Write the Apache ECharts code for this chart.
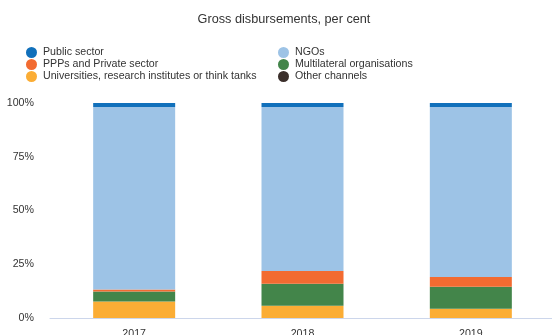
<!DOCTYPE html>
<html>
<head>
<meta charset="utf-8">
<script src="https://cdn.jsdelivr.net/npm/echarts@6/dist/echarts.min.js"></script>
<style>
  html, body { margin: 0; padding: 0; background: #ffffff; }
  #chart { width: 552px; height: 335px; }
</style>
</head>
<body>
<div id="chart"></div>
<script>
// Share of gross disbursements by channel, per cent
const years = ['2017', '2018', '2019'];
const publicSector = [1.9, 1.9, 1.9];
const ngos = [84.9, 76.2, 79.0];
const ppps = [0.9, 6.0, 4.6];
const multilateral = [4.6, 10.2, 10.2];
const universities = [7.7, 5.7, 4.3];
const otherChannels = [0, 0, 0];
const yTicks = [0, 25, 50, 75, 100];

const FONT = '"Liberation Sans", Arial, sans-serif';
const TXT = '#333333';
const FS = 10.65;

// Bottom to top stacking order
const seriesDefs = [
  { name: 'Other channels', data: otherChannels, color: '#3b2f2b' },
  { name: 'Universities, research institutes or think tanks', data: universities, color: '#fbad35' },
  { name: 'Multilateral organisations', data: multilateral, color: '#43854a' },
  { name: 'PPPs and Private sector', data: ppps, color: '#f26b31' },
  { name: 'NGOs', data: ngos, color: '#9dc3e6' },
  { name: 'Public sector', data: publicSector, color: '#1170bb' }
];

const legendCommon = {
  orient: 'vertical',
  top: 47,
  icon: 'circle',
  itemWidth: 11,
  itemHeight: 11,
  itemGap: 1,
  selectedMode: false,
  textStyle: { fontFamily: FONT, fontSize: FS, color: TXT, padding: [0, 0, 0, 1] },
  padding: 0
};

const chart = echarts.init(document.getElementById('chart'), null, { renderer: 'canvas' });
chart.setOption({
  animation: false,
  backgroundColor: '#ffffff',
  title: {
    text: 'Gross disbursements, per cent',
    left: 279,
    textAlign: 'center',
    top: 8,
    textStyle: { fontFamily: FONT, fontSize: 12.7, fontWeight: 'normal', color: TXT }
  },
  legend: [
    Object.assign({}, legendCommon, {
      left: 26,
      data: ['Public sector', 'PPPs and Private sector', 'Universities, research institutes or think tanks']
    }),
    Object.assign({}, legendCommon, {
      left: 278,
      data: ['NGOs', 'Multilateral organisations', 'Other channels']
    })
  ],
  grid: { left: 50, width: 505, top: 103, bottom: 17, containLabel: false, outerBoundsMode: 'none' },
  xAxis: {
    type: 'category',
    data: years,
    axisLine: { lineStyle: { color: '#ccd6eb', width: 1 } },
    axisTick: { show: false },
    axisLabel: { fontFamily: FONT, fontSize: FS, color: TXT, margin: 11 }
  },
  yAxis: {
    type: 'value',
    min: yTicks[0],
    max: yTicks[yTicks.length - 1],
    interval: 25,
    splitLine: { show: false },
    axisLine: { show: false },
    axisTick: { show: false },
    axisLabel: { fontFamily: FONT, fontSize: FS, color: TXT, margin: 16, formatter: '{value}%' }
  },
  series: seriesDefs.map(s => ({
    name: s.name,
    type: 'bar',
    stack: 'total',
    barWidth: 82,
    data: s.data,
    itemStyle: { color: s.color },
    emphasis: { disabled: true }
  }))
});
</script>
</body>
</html>
